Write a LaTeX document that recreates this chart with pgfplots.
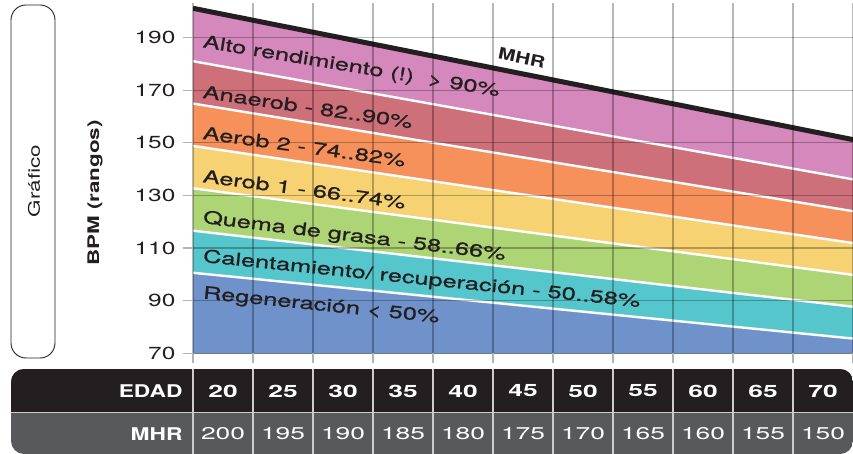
\documentclass[border=0pt]{standalone}
\usepackage{pgfplots}
\pgfplotsset{compat=1.18}
\usepackage{pgfplotstable}
\usepackage{fontspec}
\setmainfont{TeX Gyre Heros}[FakeStretch=1.4]
\newfontfamily\narrowfont{TeX Gyre Heros}[FakeStretch=1.3]
\newfontfamily\widefont{TeX Gyre Heros}[FakeStretch=1.55]
\newfontfamily\labelfont{TeX Gyre Heros}[FakeStretch=1.45, FakeBold=1]

\definecolor{ink}{HTML}{231F20}
\definecolor{tabgrey}{HTML}{58595B}
\definecolor{cAlto}{HTML}{D488BC}
\definecolor{cAna}{HTML}{CD707A}
\definecolor{cAerB}{HTML}{F6915C}
\definecolor{cAerA}{HTML}{F6D273}
\definecolor{cQuema}{HTML}{AED575}
\definecolor{cCal}{HTML}{56C6CD}
\definecolor{cReg}{HTML}{7092CB}

% zone limits at the two edges of the plot (age, BPM)
\pgfplotstableread{
age  mhr   p90   p82   p74   p66   p58   p50
17.5 201.1 181.0 164.9 148.8 132.7 116.6 100.6
72.5 151.2 136.1 124.0 111.9 99.8  87.7  75.6
}\zones

\begin{document}
\begin{tikzpicture}[x=1pt,y=1pt]
\useasboundingbox (0,0) rectangle (853,-454);

% Grafico box
\draw[ink, line width=0.9pt, rounded corners=15pt] (11,-5) rectangle (55,-358);
\node[rotate=90, text=ink, font=\fontsize{16}{16}\selectfont] at (34,-181) {Gráfico};
\node[rotate=90, text=ink, font=\fontsize{16}{16}\selectfont\bfseries] at (95,-193) {BPM (rangos)};

\begin{axis}[
    at={(193pt,-353.3pt)}, anchor=south west,
    scale only axis, width=660pt, height=350pt,
    xmin=17.5, xmax=72.5, ymin=70, ymax=203,
    xtick={17.5,22.5,...,72.5}, xticklabels={},
    ytick={70,90,...,190},
    tick pos=left, tick align=outside, major tick length=10pt,
    tick style={color=black!30, line width=1.2pt},
    grid=major, major grid style={black, opacity=0.28, line width=1.2pt},
    axis line style={draw=none},
    axis on top,
    /pgf/number format/assume math mode=true,
    yticklabel style={text=ink, font=\fontsize{17.5}{17.5}\selectfont, xshift=-4pt},
]
\addplot[fill=cAlto, draw=none] table[x=age, y=mhr] {\zones} \closedcycle;
\addplot[fill=cAna, draw=none] table[x=age, y=p90] {\zones} \closedcycle;
\addplot[fill=cAerB, draw=none] table[x=age, y=p82] {\zones} \closedcycle;
\addplot[fill=cAerA, draw=none] table[x=age, y=p74] {\zones} \closedcycle;
\addplot[fill=cQuema, draw=none] table[x=age, y=p66] {\zones} \closedcycle;
\addplot[fill=cCal, draw=none] table[x=age, y=p58] {\zones} \closedcycle;
\addplot[fill=cReg, draw=none] table[x=age, y=p50] {\zones} \closedcycle;
\addplot[white, line width=2.4pt] table[x=age, y=p90] {\zones};
\addplot[white, line width=2.4pt] table[x=age, y=p82] {\zones};
\addplot[white, line width=2.4pt] table[x=age, y=p74] {\zones};
\addplot[white, line width=2.4pt] table[x=age, y=p66] {\zones};
\addplot[white, line width=2.4pt] table[x=age, y=p58] {\zones};
\addplot[white, line width=2.4pt] table[x=age, y=p50] {\zones};
\addplot[ink, line width=5pt] table[x=age, y=mhr] {\zones};

\coordinate (l1) at (axis cs:18.33,188.0);
\coordinate (l2) at (axis cs:18.33,169.4);
\coordinate (l3) at (axis cs:18.33,153.8);
\coordinate (l4) at (axis cs:18.33,137.4);
\coordinate (l5) at (axis cs:18.33,121.3);
\coordinate (l6) at (axis cs:18.33,106.5);
\coordinate (l7) at (axis cs:18.33,92.5);
\coordinate (lm) at (axis cs:44.9,182.3);
\end{axis}

\begin{scope}[every node/.style={anchor=west, text=ink, font=\fontsize{17.5}{17.5}\selectfont\labelfont, inner sep=0pt}]
\node[rotate=-9.4] at (l1) {Alto rendimiento (!)\ \ > 90\%};
\node[rotate=-8.3] at (l2) {Anaerob - 82..90\%};
\node[rotate=-7.8] at (l3) {Aerob 2 - 74..82\%};
\node[rotate=-7.5] at (l4) {Aerob 1 - 66..74\%};
\node[rotate=-7.0] at (l5) {Quema de grasa - 58..66\%};
\node[rotate=-5.9] at (l6) {Calentamiento/ recuperación - 50..58\%};
\node[rotate=-5.8] at (l7) {Regeneración\ < 50\%};
\end{scope}
\node[rotate=-11.5, text=ink, font=\fontsize{16}{16}\selectfont\narrowfont\bfseries] at (lm) {MHR};

% table below the plot
\begin{scope}
\clip[rounded corners=13pt] (11,-369) rectangle (853,-454);
\fill[tabgrey] (11,-369) rectangle (853,-454);
\fill[ink] (11,-369) rectangle (853,-412.5);
\draw[black!20, line width=1.5pt] (11,-412.5) -- (853,-412.5);
\foreach \i in {0,...,10} {
  \draw[black!20, line width=1.5pt] (193+60*\i,-369) -- (193+60*\i,-454);
}
\end{scope}
\node[anchor=east, text=white, font=\fontsize{17.5}{17.5}\selectfont\narrowfont\bfseries] at (186,-391) {EDAD};
\node[anchor=east, text=white, font=\fontsize{17.5}{17.5}\selectfont\narrowfont\bfseries] at (186,-434) {MHR};
\foreach \a [count=\k from 0] in {20,25,...,70} {
  \node[text=white, font=\fontsize{17}{17}\selectfont\widefont\bfseries] at (223+60*\k,-391) {\a};
}
\foreach \m [count=\k from 0] in {200,195,...,150} {
  \node[text=white, font=\fontsize{17}{17}\selectfont\widefont] at (223+60*\k,-434) {\m};
}
\end{tikzpicture}
\end{document}
